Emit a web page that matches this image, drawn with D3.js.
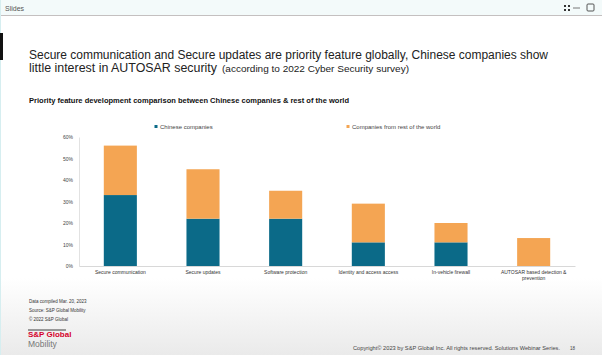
<!DOCTYPE html>
<html><head><meta charset="utf-8">
<script src="https://cdn.jsdelivr.net/npm/d3@7"></script>
<style>
html,body{margin:0;padding:0;background:#fff;}
svg{display:block;font-family:"Liberation Sans",Arial,sans-serif;}
</style></head>
<body><svg id="c" width="602" height="355"></svg>
<script>
const categories = ["Secure communication","Secure updates","Software protection","Identity and access access","In-vehicle firewall","AUTOSAR based detection &\nprevention"];
const chinese = [33, 22, 22, 11, 11, 0];
const restOfWorld = [23, 23, 13, 18, 9, 13];
const seriesNames = ["Chinese companies","Companies from rest of the world"];
const yTicks = [0,10,20,30,40,50,60];
const colors = ["#0b6a88","#f4a553"];

const svg = d3.select("#c");
const defs = svg.append("defs");
const g1 = defs.append("linearGradient").attr("id","bg").attr("x1",0).attr("y1",0).attr("x2",0).attr("y2",1);
g1.append("stop").attr("offset","0%").attr("stop-color","#ffffff");
g1.append("stop").attr("offset","100%").attr("stop-color","#eaeaea");
svg.append("rect").attr("x",0).attr("y",0).attr("width",602).attr("height",355).attr("fill","#fff");
svg.append("rect").attr("x",0).attr("y",278).attr("width",602).attr("height",77).attr("fill","url(#bg)");
svg.append("rect").attr("x",0).attr("y",0).attr("width",602).attr("height",15).attr("fill","#f3fafa");
svg.append("line").attr("x1",0).attr("x2",602).attr("y1",15.5).attr("y2",15.5).attr("stroke","#c4c0c0");
svg.append("line").attr("x1",0.5).attr("x2",0.5).attr("y1",0).attr("y2",355).attr("stroke","#d6eef0");
svg.append("text").attr("x",5).attr("y",10.5).attr("font-size",7).attr("fill","#555").text("Slides");
[[565,6],[569,6],[565,10],[569,10]].forEach(p=>svg.append("rect").attr("x",p[0]-1).attr("y",p[1]-1).attr("width",2).attr("height",2).attr("fill","#333"));
svg.append("line").attr("x1",573).attr("x2",580).attr("y1",8).attr("y2",8).attr("stroke","#555").attr("stroke-width",0.8);
svg.append("rect").attr("x",587).attr("y",4).attr("width",7).attr("height",7).attr("rx",1).attr("fill","none").attr("stroke","#444").attr("stroke-width",0.9);
svg.append("rect").attr("x",0).attr("y",33).attr("width",3).attr("height",27).attr("fill","#111");

// titles
svg.append("text").attr("x",29).attr("y",58.5).attr("font-size",12).attr("fill","#222")
  .attr("textLength",519).attr("lengthAdjust","spacingAndGlyphs")
  .text("Secure communication and Secure updates are priority feature globally, Chinese companies show");
svg.append("text").attr("x",29).attr("y",72).attr("font-size",12).attr("fill","#222")
  .attr("textLength",188).attr("lengthAdjust","spacingAndGlyphs")
  .text("little interest in AUTOSAR security");
svg.append("text").attr("x",222).attr("y",72).attr("font-size",9.5).attr("fill","#222")
  .attr("textLength",187).attr("lengthAdjust","spacingAndGlyphs")
  .text("(according to 2022 Cyber Security survey)");
svg.append("text").attr("x",29).attr("y",103).attr("font-size",7.5).attr("font-weight","bold").attr("fill","#111")
  .attr("textLength",320).attr("lengthAdjust","spacingAndGlyphs")
  .text("Priority feature development comparison between Chinese companies & rest of the world");

// chart
const x = d3.scaleBand().domain(categories).range([79,575]).paddingInner(0.6).paddingOuter(0.3);
const y = d3.scaleLinear().domain([0,60]).range([266,137]);

const data = categories.map((c,i)=>({cat:c, chinese:chinese[i], rest:restOfWorld[i]}));
const stack = d3.stack().keys(["chinese","rest"])(data);
svg.append("g").selectAll("g").data(stack).join("g").attr("fill",(d,i)=>colors[i])
  .selectAll("rect").data(d=>d).join("rect")
  .attr("x",d=>x(d.data.cat)).attr("width",x.bandwidth())
  .attr("y",d=>y(d[1])).attr("height",d=>y(d[0])-y(d[1]));

const ya = svg.append("g").attr("transform","translate(79,0)")
  .call(d3.axisLeft(y).tickValues(yTicks).tickSize(0).tickPadding(6).tickFormat(d=>d+"%"));
ya.select(".domain").attr("stroke","#e2e2e2");
ya.selectAll("text").attr("font-size",5).attr("fill","#444").attr("font-family","Liberation Sans, Arial, sans-serif");
const xa = svg.append("g").attr("transform","translate(0,266)")
  .call(d3.axisBottom(x).tickSize(0).tickPadding(6).tickFormat(""));
xa.select(".domain").attr("stroke","#d8d8d8");
xa.selectAll(".tick").each(function(d){
  const lines = d.split("\n");
  const t = d3.select(this).append("text").attr("fill","#333").attr("font-size",5).attr("text-anchor","middle").attr("y",8);
  lines.forEach((l,i)=>t.append("tspan").attr("x",0).attr("dy",i?6:0).text(l));
});

const leg = [[156,seriesNames[0]],[348,seriesNames[1]]];
leg.forEach((l,i)=>{
  svg.append("rect").attr("x",l[0]-1.5).attr("y",125).attr("width",3).attr("height",3).attr("fill",colors[i]);
  svg.append("text").attr("x",l[0]+4).attr("y",128.5).attr("font-size",6).attr("fill","#444").text(l[1]);
});

["Data compiled Mar. 20, 2023","Source: S&P Global Mobility","© 2022 S&P Global"].forEach((t,i)=>{
  svg.append("text").attr("x",29).attr("y",303+i*9).attr("font-size",4.5).attr("fill","#333").text(t);
});
svg.append("line").attr("x1",28).attr("x2",66).attr("y1",330).attr("y2",330).attr("stroke","#111").attr("stroke-width",0.8);
svg.append("text").attr("x",28).attr("y",337).attr("font-size",8).attr("font-weight","bold").attr("fill","#d5002b").text("S&P Global");
svg.append("text").attr("x",28).attr("y",347).attr("font-size",8.5).attr("fill","#777").text("Mobility");
svg.append("text").attr("x",353).attr("y",350).attr("font-size",4.5).attr("fill","#444")
  .attr("textLength",207).attr("lengthAdjust","spacingAndGlyphs")
  .text("Copyright© 2023 by S&P Global Inc. All rights reserved. Solutions Webinar Series.");
svg.append("text").attr("x",570).attr("y",350).attr("font-size",4.5).attr("fill","#444").text("18");
</script></body></html>
